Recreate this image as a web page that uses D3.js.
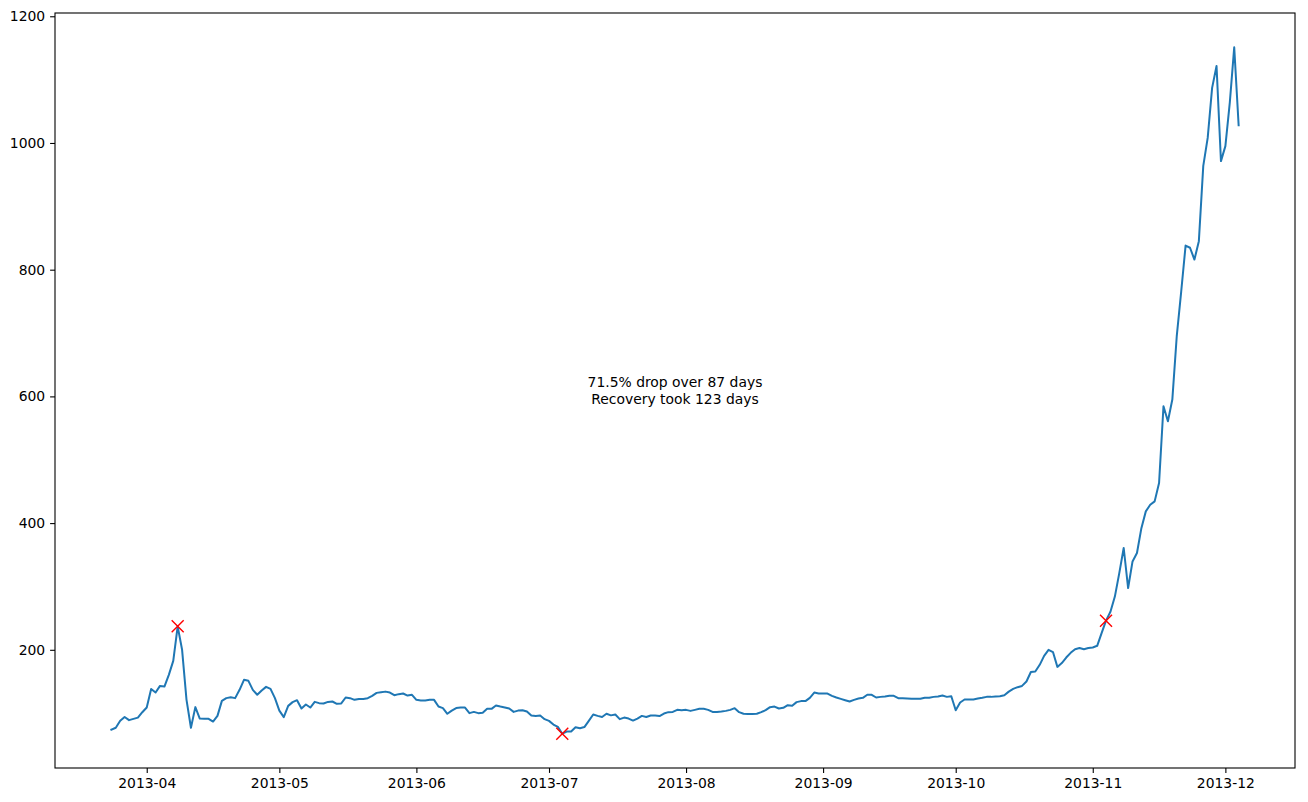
<!DOCTYPE html>
<html>
<head>
<meta charset="utf-8">
<script src="https://cdn.jsdelivr.net/npm/d3@7"></script>
<style>
  html, body { margin: 0; padding: 0; background: #fff; }
  svg { display: block; }
  text { font-family: "DejaVu Sans", sans-serif; }
</style>
</head>
<body>
<svg id="chart" width="1308" height="802"></svg>
<script>
// ---- Data (daily closing prices) ----
const startDate = "2013-03-24";
const prices = [
  // Mar 24-31
  74, 77, 88, 94, 89, 91, 93, 101.5,
  // Apr
  109, 138, 132.5, 143, 142, 160.5, 182.6, 237, 200, 121, 77, 109.5, 91.5, 91, 91,
  86.7, 95.7, 119.4, 123.7, 125, 123.7, 136.8, 152.6, 151, 136.8, 129, 135.7, 141.5, 138.4, 123.7,
  // May
  104, 93.7, 111.5, 117.4, 120.5, 107.3, 113.6, 108.9, 117.8, 115.8, 115.3, 117.8, 118.4, 114.7, 115.3,
  124.7, 123.7, 121, 122.5, 122.5, 123.7, 127.3, 132, 133, 134, 132.5, 128.4, 130, 131, 127.8, 129,
  // Jun
  121, 120, 120, 121, 121, 110.4, 108, 99, 104, 108, 108.9, 108.9, 100, 102, 100,
  100.5, 106.8, 106.8, 112, 110.4, 109, 107.3, 102, 104, 104.6, 102.5, 96.2, 95.7, 96.2, 90.5,
  // Jul
  87.8, 82, 78.3, 67.6, 71, 71, 77.8, 76.3, 78, 87.8, 97.8, 95.7, 94, 99, 96.5,
  97.8, 90.5, 93, 91.5, 88.3, 91.5, 95.7, 94, 96.2, 96.2, 95.5, 99.4, 101.6, 102, 105.2, 104.7,
  // Aug
  105.2, 103.6, 105.2, 106.8, 106.8, 105.2, 102, 102, 102.6, 103.6, 105.2, 107.9, 101.6, 99, 98.5,
  98.5, 99, 101.6, 104.7, 109.5, 110.4, 107.3, 108.4, 112.6, 111.6, 117.4, 119, 119, 124.2, 132.5, 131,
  // Sep
  131, 131, 127.3, 124.7, 122.6, 120.5, 118.4, 121, 123, 124.2, 129, 129, 124.7, 125.7, 126.3,
  127.3, 127.3, 123.7, 123.7, 123.2, 122.6, 122.6, 122.6, 124.2, 124.2, 125.7, 126.3, 127.8, 125.7, 126.8,
  // Oct
  104.7, 116.8, 121.5, 121.5, 121.5, 123, 124.2, 125.7, 125.7, 126.3, 126.8, 128.4, 134, 138.4, 141,
  143, 150, 165, 165.7, 176.3, 190.5, 200, 196.4, 173, 179, 187.8, 195.2, 201, 202.7, 201, 202.7,
  // Nov
  203.7, 206.3, 226.4, 246, 260, 284, 321, 360.7, 297.5, 339.5, 352.8, 392, 418.5, 429, 434.3,
  463.3, 584.4, 560.7, 595, 695, 765, 838, 834.6, 816, 845, 963.8, 1008, 1087, 1121.5, 971.4,
  // Dec 1-4
  995, 1063.7, 1151, 1028
];
const markerDates = ["2013-04-08", "2013-07-04", "2013-11-04"];
const annotationLines = ["71.5% drop over 87 days", "Recovery took 123 days"];
const yTickValues = [200, 400, 600, 800, 1000, 1200];

// ---- Layout ----
const W = 1308, H = 802;
const margin = { left: 55, right: 13, top: 13, bottom: 34 };
const x0 = margin.left, x1 = W - margin.right, y0 = margin.top, y1 = H - margin.bottom;

const parse = d3.utcParse("%Y-%m-%d");
const start = parse(startDate);
const data = prices.map((v, i) => ({ date: d3.utcDay.offset(start, i), value: v }));

const dExt = d3.extent(data, d => d.date);
const dSpan = dExt[1] - dExt[0];
const vExt = d3.extent(data, d => d.value);
const vSpan = vExt[1] - vExt[0];

const x = d3.scaleUtc()
  .domain([new Date(+dExt[0] - 0.05 * dSpan), new Date(+dExt[1] + 0.05 * dSpan)])
  .range([x0, x1]);
const y = d3.scaleLinear()
  .domain([vExt[0] - 0.05 * vSpan, vExt[1] + 0.05 * vSpan])
  .range([y1, y0]);

const svg = d3.select("#chart");
const fs = 13.9;

// Axes
const xAxis = d3.axisBottom(x)
  .ticks(d3.utcMonth.every(1))
  .tickFormat(d3.utcFormat("%Y-%m"))
  .tickSize(4.9).tickPadding(4.9);
const gx = svg.append("g").attr("transform", `translate(0,${y1})`).call(xAxis);
gx.select(".domain").remove();
gx.selectAll("line").attr("stroke", "#000").attr("stroke-width", 1.1);
gx.selectAll("text").attr("font-size", fs).attr("fill", "#000").attr("font-family", "DejaVu Sans");

const yAxis = d3.axisLeft(y).tickValues(yTickValues).tickFormat(d3.format("d"))
  .tickSize(4.9).tickPadding(4.9);
const gy = svg.append("g").attr("transform", `translate(${x0},0)`).call(yAxis);
gy.select(".domain").remove();
gy.selectAll("line").attr("stroke", "#000").attr("stroke-width", 1.1);
gy.selectAll("text").attr("font-size", fs).attr("fill", "#000").attr("font-family", "DejaVu Sans");

// Clip
svg.append("clipPath").attr("id", "clip")
  .append("rect").attr("x", x0).attr("y", y0).attr("width", x1 - x0).attr("height", y1 - y0);

// Line
const line = d3.line().x(d => x(d.date)).y(d => y(d.value));
svg.append("path").datum(data)
  .attr("clip-path", "url(#clip)")
  .attr("fill", "none").attr("stroke", "#1f77b4").attr("stroke-width", 2)
  .attr("stroke-linejoin", "round").attr("stroke-linecap", "square")
  .attr("d", line);

// Markers
const byDate = new Map(data.map(d => [+d.date, d]));
const marks = markerDates.map(s => byDate.get(+parse(s)));
const ms = 6;
const mg = svg.append("g");
marks.forEach(m => {
  const cx = x(m.date), cy = y(m.value);
  mg.append("path")
    .attr("d", `M${cx - ms},${cy - ms}L${cx + ms},${cy + ms}M${cx - ms},${cy + ms}L${cx + ms},${cy - ms}`)
    .attr("stroke", "red").attr("stroke-width", 1.4).attr("fill", "none");
});

// Annotation at axes centre
const cx = (x0 + x1) / 2, cy = (y0 + y1) / 2;
const lh = fs * 1.2;
const ta = svg.append("text").attr("text-anchor", "middle").attr("font-size", fs).attr("fill", "#000");
annotationLines.forEach((t, i) => {
  ta.append("tspan").attr("x", cx)
    .attr("y", cy + (i - (annotationLines.length - 1) / 2) * lh)
    .attr("dy", "0.35em").text(t);
});

// Frame
svg.append("rect").attr("x", x0).attr("y", y0).attr("width", x1 - x0).attr("height", y1 - y0)
  .attr("fill", "none").attr("stroke", "#000").attr("stroke-width", 1.1);
</script>
</body>
</html>
